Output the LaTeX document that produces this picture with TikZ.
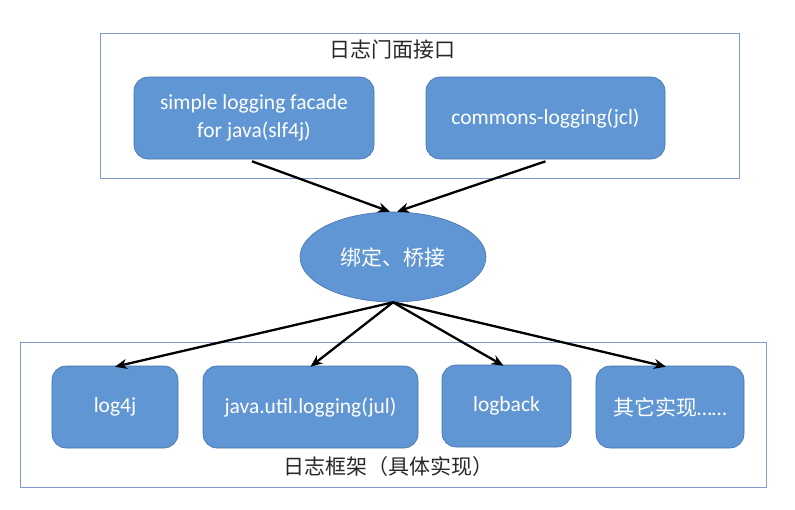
\documentclass[tikz,border=0pt]{standalone}
\usepackage{fontspec}
\setmainfont{Carlito}
\newfontfamily\cjk{Noto Sans CJK SC}
\usetikzlibrary{shapes.geometric,arrows.meta}
\definecolor{nodefill}{RGB}{96,150,211}
\definecolor{nodeedge}{RGB}{70,115,170}
\definecolor{frameedge}{RGB}{125,155,205}
\definecolor{labeltext}{RGB}{40,40,40}
\tikzset{
  frame/.style={draw=frameedge, line width=0.9pt, fill=white},
  blk/.style={draw=nodeedge, line width=0.6pt, fill=nodefill, rounded corners=14pt,
    text=white, font=\fontsize{21.5}{28}\selectfont, align=center, inner sep=0pt},
  oval/.style={ellipse, draw=nodeedge, line width=0.6pt, fill=nodefill, text=white,
    minimum width=186pt, minimum height=90pt, inner sep=0pt,
    font=\cjk\fontsize{21}{25}\selectfont},
  title/.style={text=labeltext, font=\cjk\fontsize{21}{25}\selectfont, inner sep=0pt},
  link/.style={-{Stealth[length=12pt,width=10pt]}, line width=2.3pt, black}
}
\begin{document}
\begin{tikzpicture}[x=1pt,y=-1pt]
\useasboundingbox (0,0) rectangle (795,509);
% frames
\node[frame, minimum width=639pt, minimum height=145pt, inner sep=0pt] (topframe) at (419.5,105.5) {};
\node[frame, minimum width=746pt, minimum height=145pt, inner sep=0pt] (botframe) at (393,414.5) {};
\node[title] (toplabel) at (392,50) {日志门面接口};
\node[title] (botlabel) at (388,467) {日志框架（具体实现）};
% top nodes
\node[blk, minimum width=240pt, minimum height=82pt] (slf) at (254,118) {simple logging facade\\for java(slf4j)};
\node[blk, minimum width=239pt, minimum height=82pt] (jcl) at (545.5,118) {commons-logging(jcl)};
% ellipse
\node[oval] (bind) at (393,257) {绑定、桥接};
% bottom nodes
\node[blk, minimum width=126pt, minimum height=82pt] (log4j) at (115,407) {log4j};
\node[blk, minimum width=215pt, minimum height=82pt] (jul) at (310.5,407) {java.util.logging(jul)};
\node[blk, minimum width=129pt, minimum height=82pt] (logback) at (506.5,406) {logback};
\node[blk, minimum width=148pt, minimum height=82pt] (other) at (670,407) {{\cjk\fontsize{21}{25}\selectfont 其它实现}……};
% arrows
\draw[link] ([xshift=-2pt,yshift=-2pt]slf.south) -- ([xshift=-3pt]bind.north);
\draw[link] ([yshift=-2pt]jcl.south) -- ([xshift=4pt]bind.north);
\draw[link] (bind.south) -- ([yshift=-1pt]log4j.north);
\draw[link] (bind.south) -- ([yshift=-1pt]jul.north);
\draw[link] (bind.south) -- ([xshift=-3pt,yshift=-1pt]logback.north);
\draw[link] (bind.south) -- ([xshift=-4pt,yshift=-1pt]other.north);
\end{tikzpicture}
\end{document}
